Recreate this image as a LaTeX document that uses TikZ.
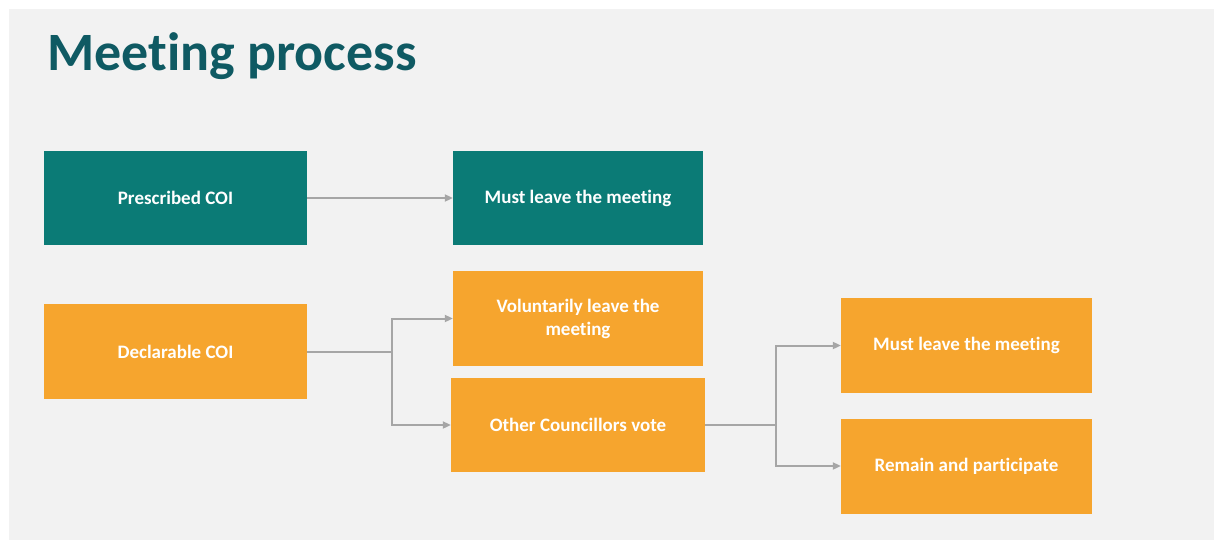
\documentclass[tikz,border=0pt]{standalone}
\usepackage{fontspec}
\setmainfont{Carlito}[Ligatures=NoCommon]
\usetikzlibrary{positioning,arrows.meta}

\definecolor{coiteal}{HTML}{0B7B76}
\definecolor{coiorange}{HTML}{F6A52E}
\definecolor{titleteal}{HTML}{0F5A63}
\definecolor{slidegray}{HTML}{F2F2F2}
\definecolor{linkgray}{HTML}{A6A6A6}

\tikzset{
  coibox/.style={rectangle,inner sep=2pt,align=center,text=white,
                 font=\fontsize{19}{23}\selectfont\bfseries},
  tealbox/.style={coibox,fill=coiteal},
  orangebox/.style={coibox,fill=coiorange},
  link/.style={draw=linkgray,line width=2pt},
  linkarrow/.style={link,-{Triangle[length=8pt,width=7pt]}}
}

\begin{document}
\begin{tikzpicture}[x=1pt,y=-1pt]

  % slide background
  \fill[white] (0,0) rectangle (1214,540);
  \fill[slidegray] (9,9) rectangle (1214,540);
  \useasboundingbox (0,0) rectangle (1214,540);

  % heading
  \node[anchor=base west,inner sep=0pt,text=titleteal,
        font=\fontsize{54}{64}\selectfont\bfseries] (title) at (47,71)
        {Meeting process};

  % first column
  \node[tealbox,minimum width=263pt,minimum height=94pt] (presc) at (175.5,198)
        {Prescribed COI};
  \node[orangebox,minimum width=263pt,minimum height=95pt] (decl) at (175.5,351.5)
        {Declarable COI};

  % second column
  \node[tealbox,minimum width=250pt,minimum height=94pt] (mustA) at (578,198)
        {Must leave the meeting};
  \node[orangebox,minimum width=250pt,minimum height=95pt] (volun) at (578,318.5)
        {Voluntarily leave the\\meeting};
  \node[orangebox,minimum width=254pt,minimum height=94pt] (vote) at (578,425)
        {Other Councillors vote};

  % third column
  \node[orangebox,minimum width=251pt,minimum height=95pt] (mustB) at (966.5,345.5)
        {Must leave the meeting};
  \node[orangebox,minimum width=251pt,minimum height=95pt] (remain) at (966.5,466)
        {Remain and participate};

  % connectors
  \draw[linkarrow] (presc.east) -- (mustA.west);

  \draw[link] (decl.east) -- ++(85,0) coordinate (splitA);
  \draw[linkarrow] (splitA) |- (volun.west);
  \draw[linkarrow] (splitA) |- (vote.west);

  \draw[link] (vote.east) -- ++(71,0) coordinate (splitB);
  \draw[linkarrow] (splitB) |- (mustB.west);
  \draw[linkarrow] (splitB) |- (remain.west);

\end{tikzpicture}
\end{document}
